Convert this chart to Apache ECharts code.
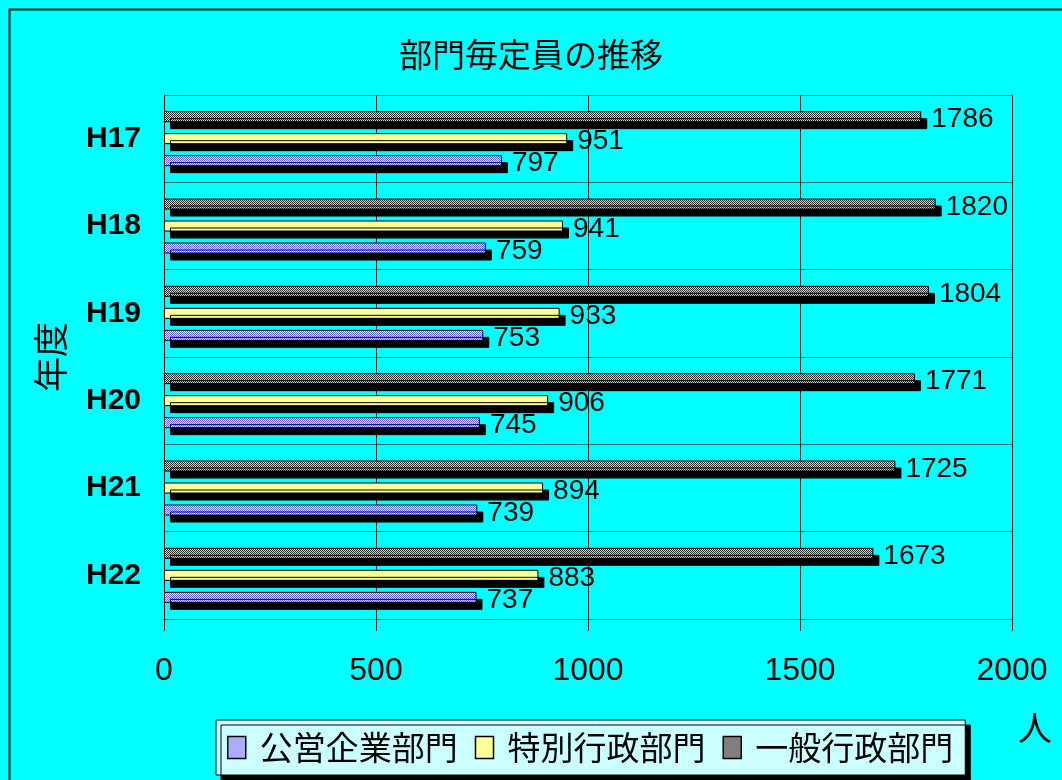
<!DOCTYPE html>
<html><head><meta charset="utf-8">
<script src="https://cdn.jsdelivr.net/npm/echarts@6/dist/echarts.min.js"></script>
<style>html,body{margin:0;padding:0;background:#00ffff}#c{width:1062px;height:780px}</style>
</head><body><div id="c"></div>
<script>
const categories = ['H17','H18','H19','H20','H21','H22'];
const koueiKigyou = [797,759,753,745,739,737];
const tokubetsuGyousei = [951,941,933,906,894,883];
const ippanGyousei = [1786,1820,1804,1771,1725,1673];
const xTicks = [0,500,1000,1500,2000];
const seriesNames = ['公営企業部門','特別行政部門','一般行政部門'];

const LAT = '"Liberation Sans", Arial, sans-serif';
const CJK = '"Noto Sans CJK JP", "Liberation Sans", sans-serif';

function checker(fg, bg) {
  const c = document.createElement('canvas'); c.width = 4; c.height = 4;
  const g = c.getContext('2d');
  g.fillStyle = bg; g.fillRect(0,0,4,4);
  g.fillStyle = fg;
  for (let y=0;y<4;y++) for (let x=0;x<4;x++) if ((x+y)%2===0) g.fillRect(x,y,1,1);
  return c;
}
const grayPat = {image: checker('#2a2a2a', '#d4d4d4'), repeat: 'repeat'};
const bluePat = {image: checker('#5a5aff', '#ffffff'), repeat: 'repeat'};

const barStyle = (color) => ({
  color: color, borderColor: '#000', borderWidth: 1,
  shadowColor: '#000', shadowBlur: 0, shadowOffsetX: 6, shadowOffsetY: 7
});
const lbl = {show: true, position: 'right', distance: 10, fontSize: 28, color: '#000', fontFamily: LAT, offset: [0, 3]};

const chart = echarts.init(document.getElementById('c'));
chart.setOption({
  backgroundColor: '#00ffff',
  animation: false,
  title: {text: '部門毎定員の推移', left: 'center', top: 38, padding: 0,
    textStyle: {fontSize: 33, fontWeight: 'normal', color: '#000', fontFamily: CJK}},
  legend: {
    data: seriesNames, left: 216, top: 720, icon: 'rect',
    padding: [11, 12, 11, 11], itemGap: 17, itemWidth: 18, itemHeight: 22,
    backgroundColor: '#ccffff', borderColor: '#000', borderWidth: 1,
    shadowColor: '#000', shadowBlur: 0, shadowOffsetX: 5, shadowOffsetY: 5,
    itemStyle: {borderColor: '#000', borderWidth: 1.5, shadowBlur: 0, shadowOffsetX: 0, shadowOffsetY: 0, shadowColor: 'rgba(0,0,0,0)'},
    textStyle: {fontSize: 33, color: '#000', fontFamily: CJK, padding: [0, 0, 0, 9]}
  },
  grid: {left: 164, right: 50, top: 95, bottom: 161, containLabel: false},
  xAxis: {
    type: 'value', min: xTicks[0], max: xTicks[xTicks.length-1], interval: 500,
    axisLine: {show: true, lineStyle: {color: '#107070', width: 1}},
    axisTick: {show: true, length: 12, lineStyle: {color: '#222'}},
    splitLine: {show: true, lineStyle: {color: '#222', width: 1}},
    axisLabel: {fontSize: 32, color: '#000', fontFamily: LAT, margin: 36, formatter: (v) => String(v)}
  },
  yAxis: {
    type: 'category', data: categories, inverse: true,
    name: '年度', nameLocation: 'middle', nameRotate: 90, nameGap: 96,
    nameTextStyle: {fontSize: 35, color: '#000', fontFamily: CJK},
    axisLine: {show: true, lineStyle: {color: '#000', width: 1}},
    axisTick: {show: false},
    splitLine: {show: true, lineStyle: {color: '#107070', width: 1}},
    axisLabel: {fontSize: 30, fontWeight: 'bold', color: '#000', fontFamily: LAT, margin: 23}
  },
  graphic: [
    {type: 'rect', left: 7, top: 7, shape: {width: 1100, height: 1100}, style: {fill: 'none', stroke: '#111', lineWidth: 2}, silent: true},
    {type: 'text', x: 1035, y: 728, style: {text: '人', font: '34px ' + CJK, fill: '#000', textAlign: 'center', textVerticalAlign: 'middle'}}
  ],
  series: [
    {name: seriesNames[2], type: 'bar', data: ippanGyousei, barWidth: 11, barGap: '100%', itemStyle: barStyle(grayPat), label: lbl},
    {name: seriesNames[1], type: 'bar', data: tokubetsuGyousei, barWidth: 11, barGap: '100%', itemStyle: barStyle('#ffff99'), label: lbl},
    {name: seriesNames[0], type: 'bar', data: koueiKigyou, barWidth: 11, barGap: '100%', itemStyle: barStyle(bluePat), label: lbl}
  ]
});
</script></body></html>
